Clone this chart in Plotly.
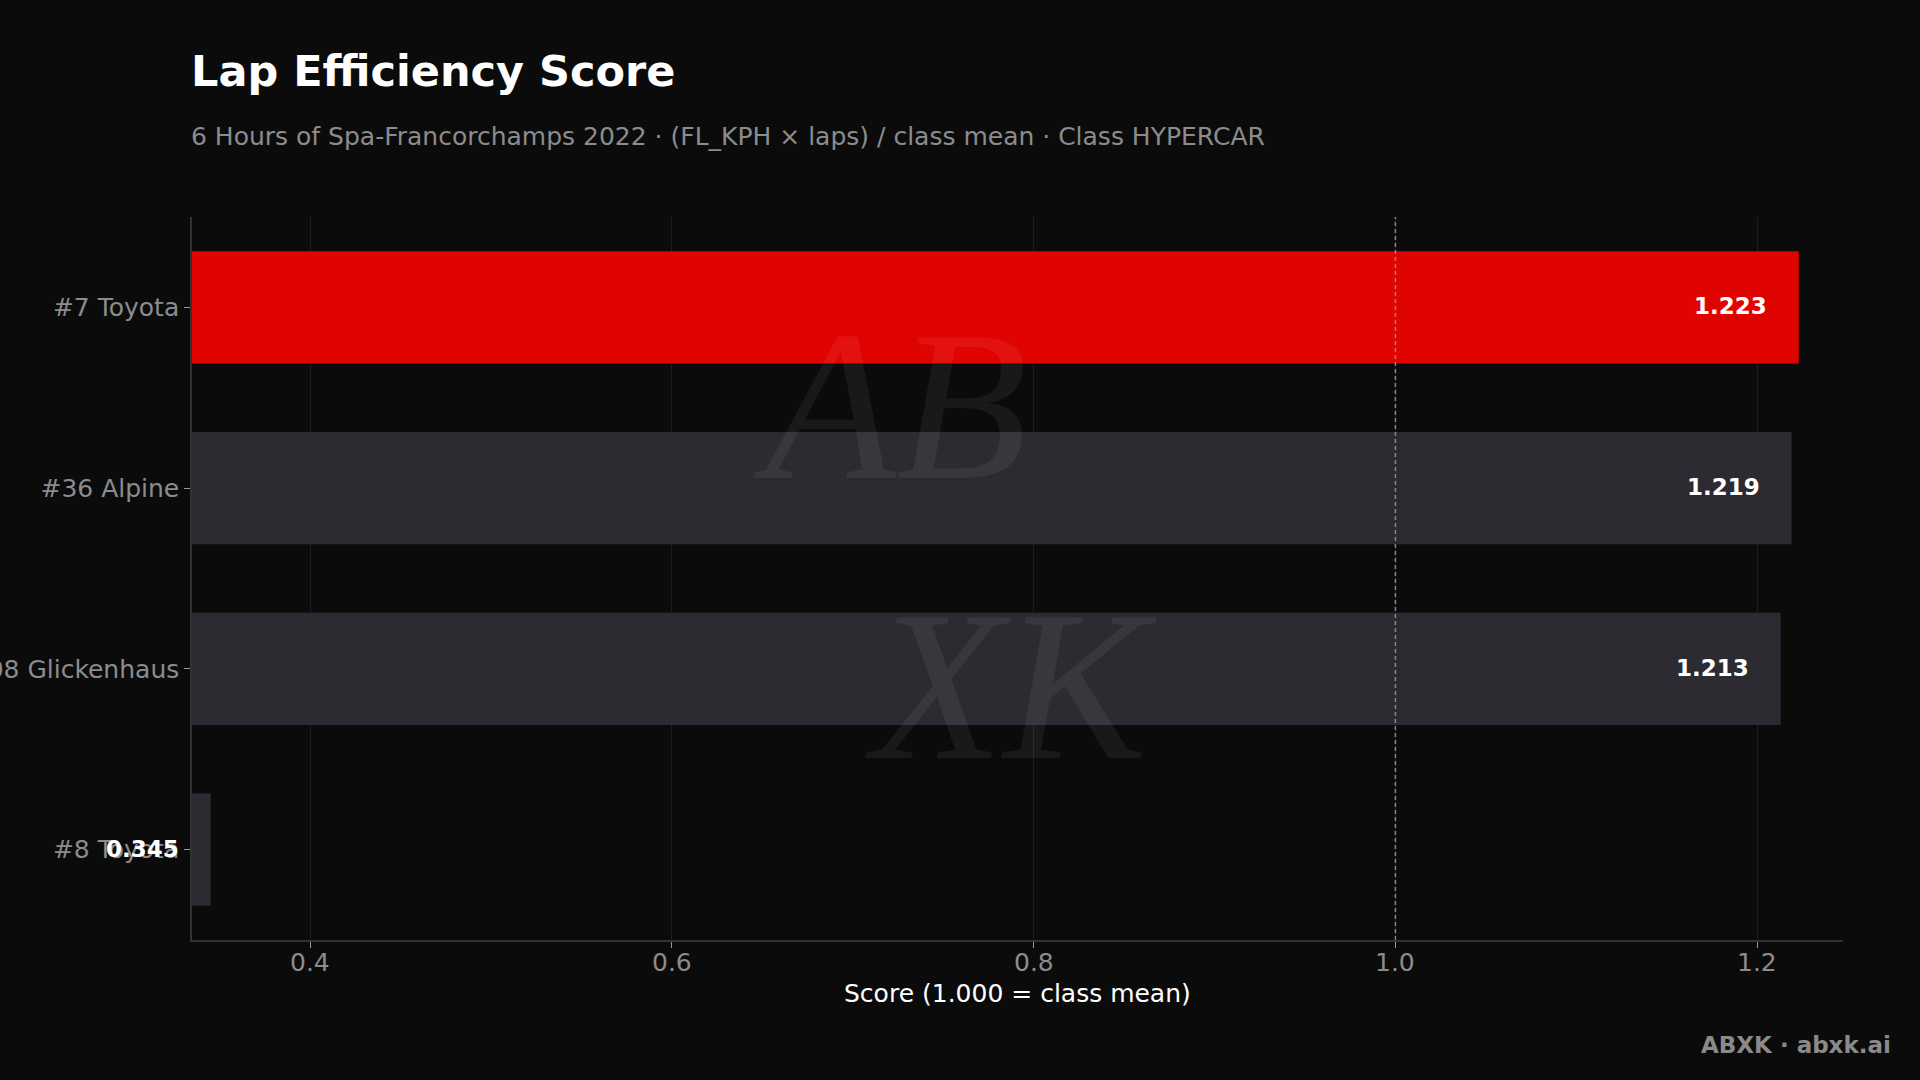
import plotly.graph_objects as go

# ---- data ----
cars = ["#7 Toyota", "#36 Alpine", "#708 Glickenhaus", "#8 Toyota"]
scores = [1.223, 1.219, 1.213, 0.345]
bar_colors = ["#e00400", "#2c2b31", "#2c2b31", "#2c2b31"]
x_ticks = [0.4, 0.6, 0.8, 1.0, 1.2]
x_range = [min(scores) * 0.97, max(scores) * 1.02]
class_mean = 1.0

W, H = 1920, 1080
ML, MR, MT, MB = 192, 77, 217, 140
PW = W - ML - MR
PH = H - MT - MB
BG = "#0b0b0c"
FONT = "DejaVu Sans"


def py(pix_y):
    """pixel y (from top) -> paper y"""
    return (H - MB - pix_y) / PH


def px(pix_x):
    """pixel x (from left) -> paper x"""
    return (pix_x - ML) / PW


fig = go.Figure()
fig.add_trace(go.Bar(
    x=scores, y=cars, orientation="h",
    marker=dict(color=bar_colors, line=dict(width=0)),
    hoverinfo="x+y", showlegend=False,
))

# value labels
for c, v in zip(cars, scores):
    fig.add_annotation(
        x=v, y=c, xref="x", yref="y", text=f"<b>{v:.3f}</b>",
        showarrow=False, xanchor="right", yanchor="middle", xshift=-30, yshift=1,
        font=dict(family=FONT, size=23, color="#ffffff"),
    )

# x tick labels
for t in x_ticks:
    fig.add_annotation(
        x=t, y=py(963), xref="x", yref="paper", text=f"{t:.1f}",
        showarrow=False, xanchor="center", yanchor="middle",
        font=dict(family=FONT, size=25, color="#8c8c8c"),
    )
# x axis title
fig.add_annotation(xref="paper", yref="paper", x=0.5, y=py(993), xanchor="center", yanchor="middle",
                   text="Score (1.000 = class mean)", showarrow=False,
                   font=dict(family=FONT, size=25, color="#ffffff"))

# class mean reference line
fig.add_shape(type="line", xref="x", yref="paper", x0=class_mean, x1=class_mean,
              y0=0, y1=1, line=dict(color="rgba(150,150,150,0.85)", width=1.5, dash="4px,3px"),
              layer="above")

# watermark (single faint text block)
fig.add_annotation(xref="paper", yref="paper", x=px(955), y=py(545),
                   xanchor="center", yanchor="middle", align="left",
                   text="<i>AB</i><br><i>&#160;&#160;XK</i>", showarrow=False,
                   font=dict(family="Liberation Serif", size=215, color="rgba(255,255,255,0.06)"))

# title & subtitle
fig.add_annotation(xref="paper", yref="paper", x=0, y=py(71), xanchor="left", yanchor="middle",
                   text="<b>Lap Efficiency Score</b>", showarrow=False,
                   font=dict(family=FONT, size=43, color="#ffffff"), xshift=-3)
fig.add_annotation(xref="paper", yref="paper", x=0, y=py(137), xanchor="left", yanchor="middle",
                   text="6 Hours of Spa-Francorchamps 2022 · (FL_KPH × laps) / class mean · Class HYPERCAR",
                   showarrow=False, font=dict(family=FONT, size=25, color="#8c8c8c"), xshift=-3)
# footer
fig.add_annotation(xref="paper", yref="paper", x=1, y=py(1045), xanchor="right", yanchor="middle",
                   text="<b>ABXK · abxk.ai</b>", showarrow=False,
                   font=dict(family=FONT, size=23, color="#8a8a8a"), xshift=MR - 27)

fig.update_layout(
    width=W, height=H,
    margin=dict(l=ML, r=MR, t=MT, b=MB, autoexpand=False),
    paper_bgcolor=BG, plot_bgcolor=BG,
    bargap=0.38,
    font=dict(family=FONT, color="#8c8c8c"),
    xaxis=dict(
        range=x_range, tickvals=x_ticks, showticklabels=False,
        showgrid=True, gridcolor="#1e1e20", gridwidth=1,
        zeroline=False, showline=True, linecolor="#333336", linewidth=1.5,
        ticks="outside", ticklen=6, tickcolor="#9a9a9a", tickwidth=1,
        automargin=False,
    ),
    yaxis=dict(
        type="category", categoryorder="array", categoryarray=cars,
        range=[len(cars) - 0.5, -0.5],
        showgrid=False, zeroline=False, showline=True, linecolor="#333336", linewidth=1.5,
        ticks="outside", ticklen=6, tickcolor="#9a9a9a", tickwidth=1,
        tickfont=dict(family=FONT, size=25, color="#8c8c8c"),
        ticklabelstandoff=0,
        automargin=False,
    ),
)

fig.write_html(
    "out.html",
    config={"displayModeBar": False},
    post_script="document.body.style.margin='0';document.body.style.background='#0b0b0c';",
)
